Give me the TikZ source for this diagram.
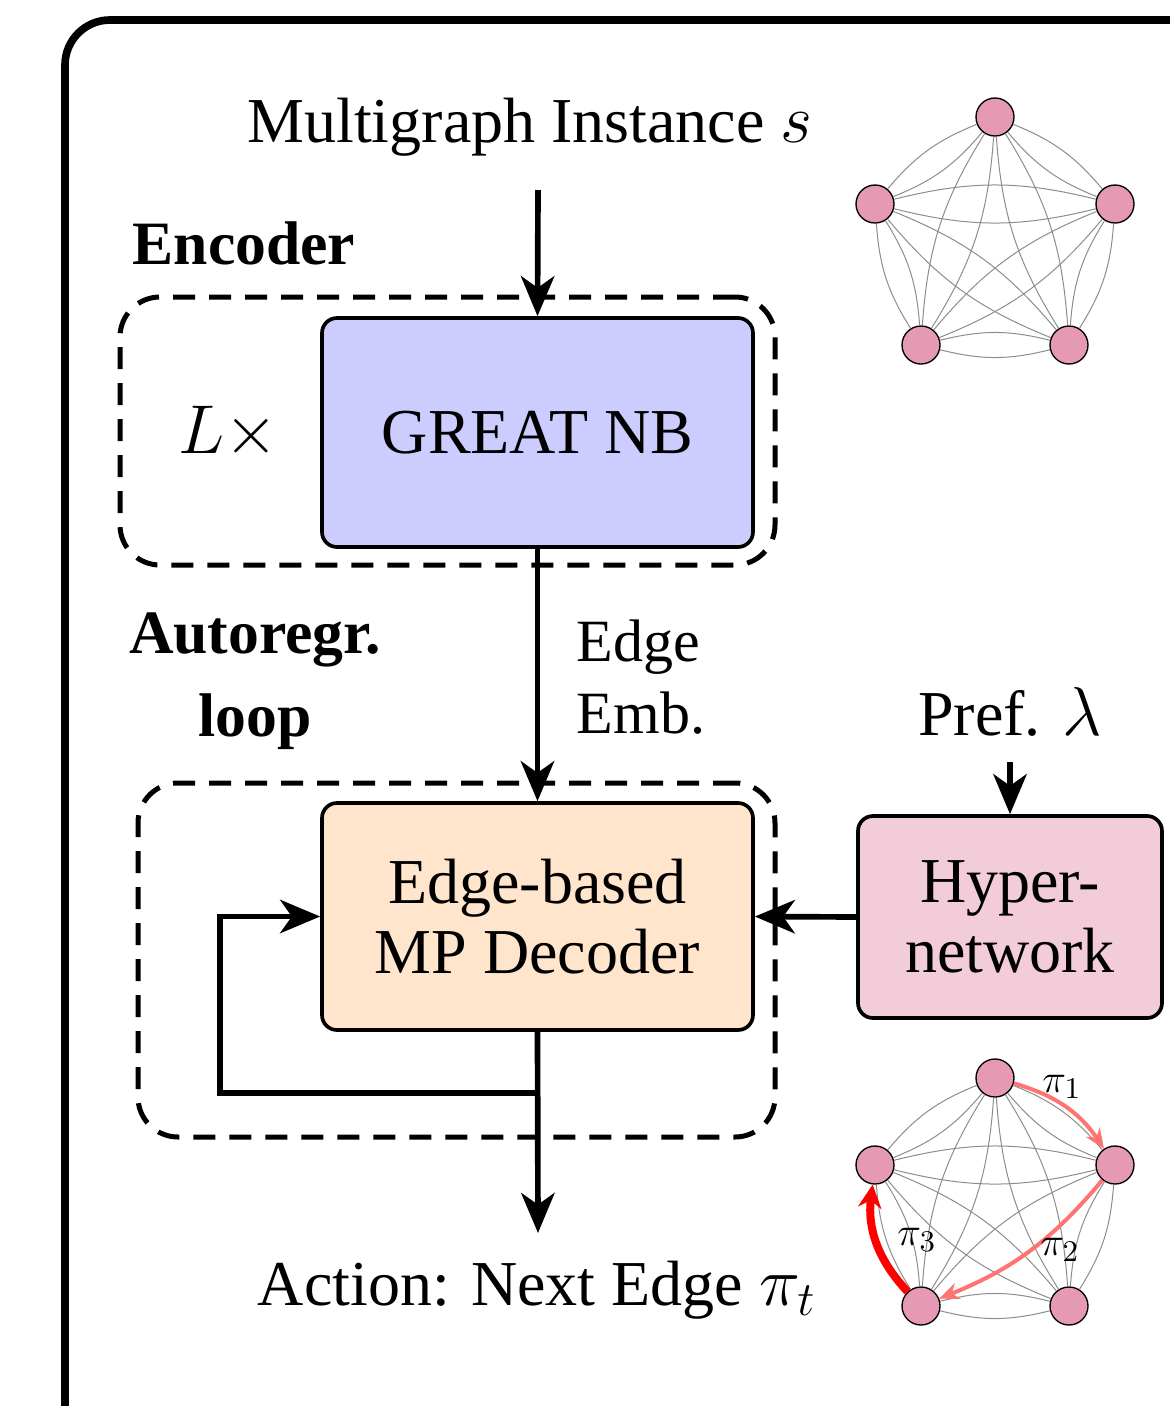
\documentclass[tikz,border=0pt]{standalone}
\usepackage{fontspec}
\setmainfont{Liberation Serif}
\usetikzlibrary{arrows.meta}

\newcommand\drawmultigraph[2]{%
  \begin{scope}[shift={(995,#2)}]
    \node[gnode] (#1a) at (0,-126) {};
    \node[gnode] (#1b) at (-120,-39) {};
    \node[gnode] (#1c) at (120,-39) {};
    \node[gnode] (#1d) at (-74,102) {};
    \node[gnode] (#1e) at (74,102) {};
    \foreach \u/\v in {a/b,a/c,a/d,a/e,b/c,b/d,b/e,c/d,c/e,d/e}{
      \draw[gedge] (#1\u) to[bend left=14] (#1\v);
      \draw[gedge] (#1\u) to[bend right=14] (#1\v);
    }
  \end{scope}
}

\begin{document}
\begin{tikzpicture}[x=0.3pt,y=-0.3pt,
  box/.style={draw, line width=1.1pt, rounded corners=4.5pt, align=center, inner sep=0pt},
  dbox/.style={draw, line width=1.5pt, dash pattern=on 6.6pt off 4.2pt, rounded corners=12pt, inner sep=0pt},
  arr/.style={line width=1.7pt, -{Stealth[length=12pt,width=10pt,inset=3.5pt]}},
  gnode/.style={circle, draw, line width=0.4pt, fill=purple!40, minimum size=11.4pt, inner sep=0pt},
  gedge/.style={black!45, line width=0.3pt},
  bigfont/.style={font=\fontsize{19.2}{21}\selectfont},
  midfont/.style={font=\fontsize{18}{21.6}\selectfont},
  boldfont/.style={font=\bfseries\fontsize{18.5}{25}\selectfont},
  pifont/.style={font=\fontsize{12.5}{14}\selectfont, inner sep=0pt},
]
\useasboundingbox (0,0) rectangle (1170,1406);
\clip (0,0) rectangle (1170,1406);
\draw[line width=2.3pt, rounded corners=13.5pt] (65,20) rectangle (1300,1520);

% dashed groups
\node[dbox, minimum width=196.5pt, minimum height=80.4pt] (encbox) at (447.5,431) {};
\node[dbox, minimum width=191.1pt, minimum height=106.2pt] (decbox) at (456.5,960) {};

% main boxes
\node[box, fill=blue!20, minimum width=129.3pt, minimum height=68.7pt, bigfont] (great) at (537.5,432.5) {GREAT NB};
\node[box, fill=orange!20, minimum width=129.3pt, minimum height=68.1pt, bigfont] (dec) at (537.5,916.5) {Edge-based\\MP Decoder};
\node[box, fill=purple!20, minimum width=91.2pt, minimum height=60.6pt, bigfont] (hyp) at (1010,917) {Hyper-\\network};

% texts
\node[bigfont] (title) at (530,127) {Multigraph Instance $s$};
\node[boldfont] (enc) at (244,243) {Encoder};
\node[boldfont, align=center] (auto) at (255,681) {Autoregr.\\loop};
\node[font=\fontsize{22.5}{24}\selectfont] (lx) at (228,433) {$L\times$};
\node[midfont, align=left, anchor=west] (emb) at (565,677) {Edge\\Emb.};
\node[bigfont] (pref) at (1010,712) {Pref. $\lambda$};
\node[bigfont] (action) at (537,1290) {Action: Next Edge $\pi_t$};

% connectors
\coordinate (in) at (538,190);
\coordinate (out) at (538,1233);
\coordinate (lp1) at (538,1093);
\coordinate (lp2) at (220,1093);
\coordinate (prefend) at (1010,762);
\draw[arr] (in) -- (great.north);
\draw[arr] (great.south) -- (dec.north);
\draw[arr] (dec.south) -- (out);
\draw[arr] (lp1) -- (lp2) |- (dec.west);
\draw[arr] (prefend) -- (hyp.north);
\draw[arr] (hyp.west) -- (dec.east);

% graphs
\drawmultigraph{g1}{243}
\drawmultigraph{g2}{1204}

\draw[red!55, line width=1.2pt, -{Stealth[length=6pt,width=5pt]}] (g2a) to[bend left=20] (g2c);
\draw[red!55, line width=1.2pt, -{Stealth[length=6pt,width=5pt]}] (g2c) to[bend left=14] (g2d);
\draw[red, line width=2.4pt, -{Stealth[length=7pt,width=7pt]}] (g2d) to[bend left=25] (g2b);
\node[pifont] (p1) at (1062,1087) {$\pi_1$};
\node[pifont] (p2) at (1060,1250) {$\pi_2$};
\node[pifont] (p3) at (917,1240) {$\pi_3$};
\end{tikzpicture}
\end{document}
